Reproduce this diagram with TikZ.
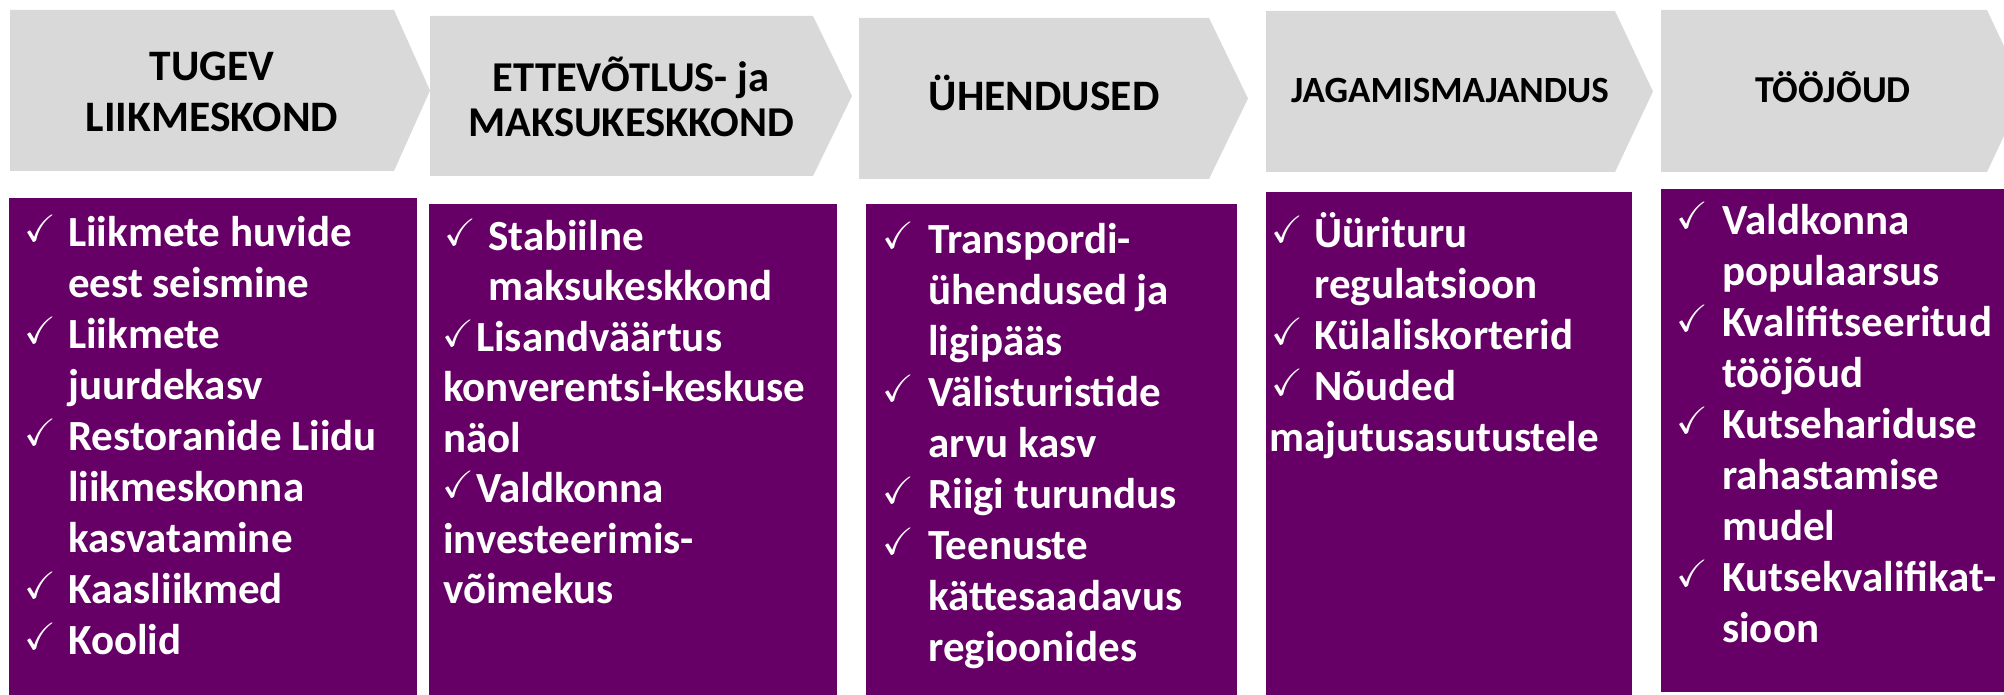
\documentclass[tikz,border=0pt]{standalone}
\usepackage{amssymb}
\usepackage{fontspec}
\setmainfont{Carlito}
\usepackage{tikz}
\definecolor{chevgrey}{HTML}{D9D9D9}
\definecolor{panelpurple}{HTML}{660066}
\tikzstyle{chevron}=[fill=chevgrey]
\tikzstyle{panel}=[fill=panelpurple]
\tikzstyle{chevtitle}=[anchor=base,inner sep=0pt,text=black]
\tikzstyle{item}=[anchor=base west,inner sep=0pt,text=white,font=\bfseries\fontsize{43}{51}\selectfont]
\tikzstyle{tick}=[anchor=base west,inner sep=0pt,text=white,font=\fontsize{38}{38}\selectfont]

\begin{document}
\begin{tikzpicture}[x=1pt,y=-1pt]
    \clip (0,0) rectangle (2004,695);

    % grey chevrons: left/top/bottom/body end/tip
    \foreach \l/\t/\b/\r/\p in {10/10/171/394/430, 430/16/176/813/852, 859/18/179/1209/1248,
                                1266/11/172/1615/1653, 1661/10/172/1987/2025}
        \fill[chevron] (\l,\t) -- (\r,\t) -- (\p,{(\t+\b)/2}) -- (\r,\b) -- (\l,\b) -- cycle;

    % chevron titles
    \foreach \name/\x/\y/\sz/\txt in {t1a/212/81/43.5/{TUGEV}, t1b/212/132/43.5/{LIIKMESKOND},
                                      t2a/631/92/42.5/{ETTEVÕTLUS- ja}, t2b/631/137/42.5/{MAKSUKESKKOND},
                                      t3/1044/111/43.5/{ÜHENDUSED}, t4/1450/103/37/{JAGAMISMAJANDUS},
                                      t5/1833/103/38/{TÖÖJÕUD}}
        \node[chevtitle,font=\bfseries\fontsize{\sz}{\sz}\selectfont] (\name) at (\x,\y) {\txt};

    % purple panels
    \foreach \l/\t/\r/\b in {9/198/417/695, 429/204/837/695, 866/204/1237/695,
                             1266/192/1632/695, 1661/189/2004/692}
        \fill[panel] (\l,\t) rectangle (\r,\b);

    % panel 1
    \foreach \i/\txt in {0/{Liikmete huvide}, 1/{eest seismine}, 2/{Liikmete}, 3/{juurdekasv},
                         4/{Restoranide Liidu}, 5/{liikmeskonna}, 6/{kasvatamine}, 7/{Kaasliikmed}, 8/{Koolid}}
        \node[item] (a\i) at (68,{246+51*\i}) {\txt};
    \foreach \i in {0,2,4,7,8}
        \node[tick] (ta\i) at (24,{241+51*\i}) {$\checkmark$};

    % panel 2
    \foreach \i/\x/\txt in {0/488/{Stabiilne}, 1/488/{maksukeskkond}, 2/476/{Lisandväärtus},
                            3/443/{konverentsi-keskuse}, 4/443/{näol}, 5/476/{Valdkonna},
                            6/443/{investeerimis-}, 7/443/{võimekus}}
        \node[item] (b\i) at (\x,{250+50.5*\i}) {\txt};
    \node[tick] (tb0) at (444,245) {$\checkmark$};
    \foreach \i in {2,5}
        \node[tick] (tb\i) at (442,{245+50.5*\i}) {$\checkmark$};

    % panel 3
    \foreach \i/\txt in {0/{Transpordi-}, 1/{ühendused ja}, 2/{ligipääs}, 3/{Välisturistide},
                         4/{arvu kasv}, 5/{Riigi turundus}, 6/{Teenuste}, 7/{kättesaadavus}, 8/{regioonides}}
        \node[item] (c\i) at (928,{253+51*\i}) {\txt};
    \foreach \i in {0,3,5,6}
        \node[tick] (tc\i) at (882,{248+51*\i}) {$\checkmark$};

    % panel 4
    \foreach \i/\x/\txt in {0/1314/{Üürituru}, 1/1314/{regulatsioon}, 2/1314/{Külaliskorterid},
                            3/1314/{Nõuded}, 4/1269/{majutusasutustele}}
        \node[item] (d\i) at (\x,{247+51*\i}) {\txt};
    \foreach \i in {0,2,3}
        \node[tick] (td\i) at (1271,{242+51*\i}) {$\checkmark$};

    % panel 5
    \foreach \i/\txt in {0/{Valdkonna}, 1/{populaarsus}, 2/{Kvalifitseeritud}, 3/{tööjõud},
                         4/{Kutsehariduse}, 5/{rahastamise}, 6/{mudel}, 7/{Kutsekvalifikat-}, 8/{sioon}}
        \node[item] (e\i) at (1722,{234+51*\i}) {\txt};
    \foreach \i in {0,2,4,7}
        \node[tick] (te\i) at (1676,{229+51*\i}) {$\checkmark$};
\end{tikzpicture}
\end{document}
